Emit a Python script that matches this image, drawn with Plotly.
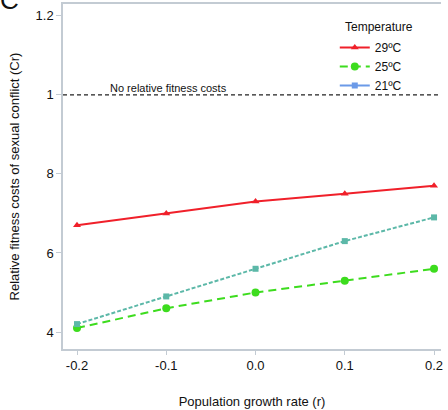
import plotly.graph_objects as go

growth_rate = [-0.2, -0.1, 0.0, 0.1, 0.2]
cr_29 = [0.67, 0.70, 0.73, 0.75, 0.77]
cr_25 = [0.41, 0.46, 0.50, 0.53, 0.56]
cr_21 = [0.42, 0.49, 0.56, 0.63, 0.69]
series_names = ["29ºC", "25ºC", "21ºC"]
legend_title = "Temperature"
y_tick_vals = [0.4, 0.6, 0.8, 1.0, 1.2]
y_tick_text = ["4", "6", "8", "1", "1.2"]
x_tick_vals = [-0.2, -0.1, 0.0, 0.1, 0.2]
x_tick_text = ["-0.2", "-0.1", "0.0", "0.1", "0.2"]
reference_level = 1.0

FONT = "Liberation Sans, Arial, sans-serif"
AXIS_COL = "#c3cbd3"
X_RANGE = [-0.2157, 0.2078]
Y_RANGE = [0.357, 1.230]

fig = go.Figure()

# reference line
fig.add_trace(go.Scatter(
    x=X_RANGE, y=[reference_level, reference_level], mode="lines",
    line=dict(color="#222222", width=1.2, dash="4px,3px"),
    showlegend=False, hoverinfo="skip"))

# data traces
fig.add_trace(go.Scatter(
    x=growth_rate, y=cr_29, mode="lines+markers", name=series_names[0],
    line=dict(color="#f0202a", width=2),
    marker=dict(symbol="triangle-up", size=7, color="#f0202a"),
    showlegend=True, legendrank=1))
fig.add_trace(go.Scatter(
    x=growth_rate, y=cr_25, mode="lines+markers", name=series_names[1],
    line=dict(color="#3ddc1e", width=2, dash="8px,5px"),
    marker=dict(symbol="circle", size=8, color="#3ddc1e"),
    showlegend=True, legendrank=2))
fig.add_trace(go.Scatter(
    x=growth_rate, y=cr_21, mode="lines+markers", name=series_names[2],
    line=dict(color="#5cb8a8", width=2, dash="4px,2px"),
    marker=dict(symbol="square", size=6, color="#5cb8a8"),
    showlegend=False))
# legend entry for 21ºC (legend uses blue in the original)
fig.add_trace(go.Scatter(
    x=[None], y=[None], mode="lines+markers", name=series_names[2],
    line=dict(color="#6b9ae8", width=2),
    marker=dict(symbol="square", size=6, color="#6b9ae8"),
    showlegend=True, legendrank=3))

fig.add_annotation(x=-0.165, y=reference_level, xref="x", yref="y",
                   text="No relative fitness costs", showarrow=False,
                   xanchor="left", yanchor="bottom", yshift=-1,
                   font=dict(family=FONT, size=11, color="#111111"))

# legend title
fig.add_annotation(x=(379 - 63) / 378, y=1 - (27 - 4) / 345, xref="paper", yref="paper",
                   text=legend_title, showarrow=False, xanchor="center", yanchor="middle",
                   font=dict(family=FONT, size=12, color="#111111"))

# panel letter
fig.add_annotation(x=-0.1667, y=1.0, xref="paper", yref="paper",
                   text="C", showarrow=False, xanchor="left", yanchor="middle",
                   xshift=-2, yshift=4,
                   font=dict(family=FONT, size=26, color="#111111"))

fig.update_layout(
    width=448, height=410,
    margin=dict(l=63, r=7, t=4, b=61, autoexpand=False),
    paper_bgcolor="white", plot_bgcolor="white",
    font=dict(family=FONT, size=13, color="#111111"),
    showlegend=True,
    legend=dict(x=0.719, y=1 - (33 - 4) / 345, xanchor="left", yanchor="top",
                bgcolor="rgba(0,0,0,0)",
                font=dict(family=FONT, size=12),
                itemwidth=30, tracegroupgap=0),
    xaxis=dict(range=X_RANGE, tickvals=x_tick_vals, ticktext=x_tick_text,
               automargin=False,
               showgrid=False, zeroline=False, showline=True, linecolor=AXIS_COL,
               linewidth=1.5, mirror=True, ticks="outside", ticklen=4,
               tickcolor=AXIS_COL, tickfont=dict(size=13),
               title=dict(text="Population growth rate (r)", standoff=25,
                          font=dict(size=13))),
    yaxis=dict(range=Y_RANGE, tickvals=y_tick_vals, ticktext=y_tick_text,
               automargin=False,
               showgrid=False, zeroline=False, showline=True, linecolor=AXIS_COL,
               linewidth=1.5, ticks="outside", ticklen=5, tickcolor=AXIS_COL,
               tickfont=dict(size=13),
               title=dict(text="Relative fitness costs of sexual conflict (Cr)",
                          standoff=13, font=dict(size=13))),
)

fig.write_html("out.html", config={"displayModeBar": False},
               post_script="document.body.style.margin='0';document.body.style.padding='0';")
